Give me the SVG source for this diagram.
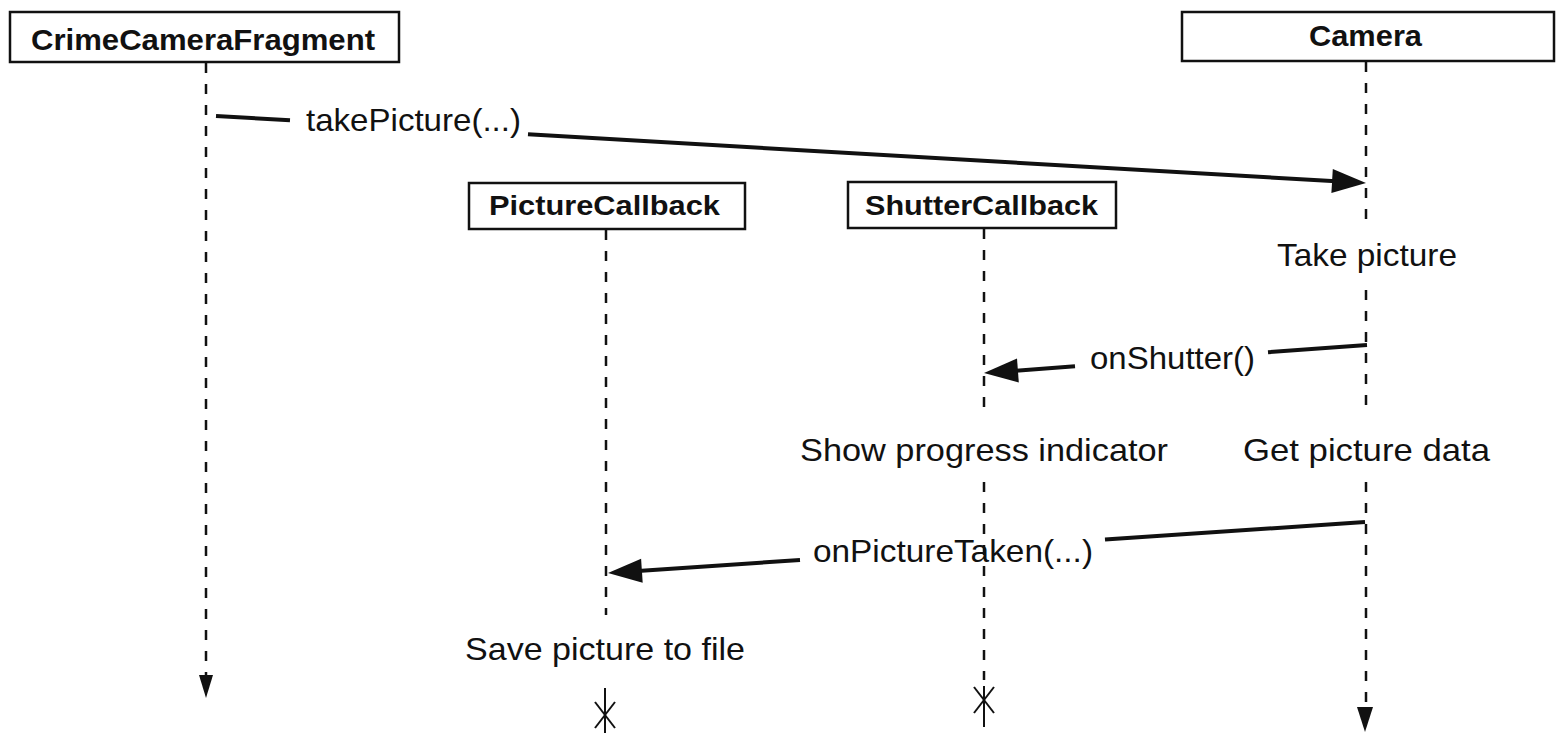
<svg xmlns="http://www.w3.org/2000/svg" width="1561" height="733" viewBox="0 0 1561 733">
<style>
  .box { fill: #fff; stroke: #111; stroke-width: 2.5; }
  .hdr { font-family: "Liberation Sans", Arial, sans-serif; font-weight: bold; fill: #111; }
  .lbl { font-family: "Liberation Sans", Arial, sans-serif; font-size: 31.5px; fill: #111; }
  .life { stroke: #111; stroke-width: 2.5; stroke-dasharray: 10 11; fill: none; }
  .solid { stroke: #111; stroke-width: 2; fill: none; }
  .msg { stroke: #111; stroke-width: 4; fill: none; }
  .head { fill: #111; stroke: none; }
</style>
<rect width="1561" height="733" fill="#fff"/>

<g id="crimeCameraFragment">
  <rect class="box" x="10" y="12" width="389" height="50"/>
  <text class="hdr" x="31" y="50" font-size="30" textLength="344" lengthAdjust="spacingAndGlyphs">CrimeCameraFragment</text>
  <line class="life" x1="206" y1="63" x2="206" y2="676"/>
  <polygon class="head" points="199,675 213,675 206,698"/>
</g>

<g id="camera">
  <rect class="box" x="1182" y="12" width="372" height="49"/>
  <text class="hdr" x="1309" y="46" font-size="30" textLength="113" lengthAdjust="spacingAndGlyphs">Camera</text>
  <line class="life" x1="1366" y1="62" x2="1366" y2="228"/>
  <line class="life" x1="1366" y1="290" x2="1366" y2="415"/>
  <line class="life" x1="1366" y1="482" x2="1366" y2="708"/>
  <polygon class="head" points="1357,707 1373,707 1365,732"/>
  <text class="lbl" x="1277" y="266" textLength="180" lengthAdjust="spacingAndGlyphs">Take picture</text>
  <text class="lbl" x="1243" y="461" textLength="247" lengthAdjust="spacingAndGlyphs">Get picture data</text>
</g>

<g id="pictureCallback">
  <rect class="box" x="469" y="183" width="276" height="46"/>
  <text class="hdr" x="489" y="215" font-size="28" textLength="231" lengthAdjust="spacingAndGlyphs">PictureCallback</text>
  <line class="life" x1="606" y1="230" x2="606" y2="615"/>
  <text class="lbl" x="465" y="660" textLength="280" lengthAdjust="spacingAndGlyphs">Save picture to file</text>
  <line class="solid" x1="605" y1="688" x2="605" y2="733"/>
  <line class="solid" x1="595" y1="702" x2="615" y2="728"/>
  <line class="solid" x1="615" y1="702" x2="595" y2="728"/>
</g>

<g id="shutterCallback">
  <rect class="box" x="848" y="182" width="268" height="46"/>
  <text class="hdr" x="865" y="215" font-size="28" textLength="233" lengthAdjust="spacingAndGlyphs">ShutterCallback</text>
  <line class="life" x1="984" y1="229" x2="984" y2="418"/>
  <line class="life" x1="984" y1="482" x2="984" y2="680"/>
  <text class="lbl" x="800" y="461" textLength="368" lengthAdjust="spacingAndGlyphs">Show progress indicator</text>
  <line class="solid" x1="984" y1="686" x2="984" y2="727"/>
  <line class="solid" x1="974" y1="687" x2="994" y2="713"/>
  <line class="solid" x1="994" y1="687" x2="974" y2="713"/>
</g>

<g id="connectors">
  <g id="takePicture">
    <line class="msg" x1="216" y1="116" x2="290" y2="120.3"/>
    <line class="msg" x1="528" y1="134.3" x2="1336" y2="181.3"/>
    <polygon class="head" points="1366,183 1331.4,193 1332.8,169"/>
    <text class="lbl" x="306" y="131" textLength="215" lengthAdjust="spacingAndGlyphs">takePicture(...)</text>
  </g>
  <g id="onShutter">
    <line class="msg" x1="1367" y1="345" x2="1268" y2="352.2"/>
    <line class="msg" x1="1075" y1="366.3" x2="1014" y2="370.8"/>
    <polygon class="head" points="984,373 1017,358.5 1018.8,382.5"/>
    <text class="lbl" x="1090" y="369" textLength="165" lengthAdjust="spacingAndGlyphs">onShutter()</text>
  </g>
  <g id="onPictureTaken">
    <line class="msg" x1="1365" y1="522" x2="1105" y2="539.5"/>
    <line class="msg" x1="800" y1="560" x2="638" y2="571"/>
    <polygon class="head" points="608,573 641.1,558.7 642.7,582.7"/>
    <text class="lbl" x="813" y="562" textLength="280" lengthAdjust="spacingAndGlyphs">onPictureTaken(...)</text>
  </g>
</g>
</svg>
